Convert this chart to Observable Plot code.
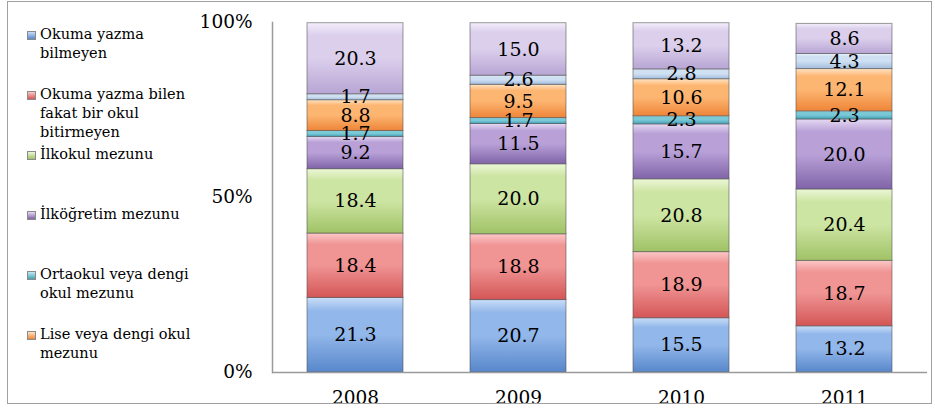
<!DOCTYPE html>
<html><head><meta charset="utf-8">
<script src="https://cdn.jsdelivr.net/npm/d3@7"></script>
<script src="https://cdn.jsdelivr.net/npm/@observablehq/plot@0.6"></script>
<style>
body{margin:0;background:#fff;}
#wrap{position:relative;width:935px;height:411px;overflow:hidden;font-family:"DejaVu Serif",serif;}
#chart{position:absolute;left:0;top:0;}
#frame{position:absolute;left:7px;top:1px;width:923px;height:401px;border:1.5px solid #a0a0a0;pointer-events:none;z-index:3;}
#cover{position:absolute;left:0;top:404px;width:935px;height:8px;background:#fff;z-index:2;}
.item{position:absolute;left:27px;font-size:14.5px;line-height:19px;color:#000;}
.sw{position:absolute;left:0;top:6px;width:7px;height:7px;border:1px solid #8a8a8a;}
.lbl{position:absolute;left:13px;top:0;width:158px;}
</style></head>
<body><div id="wrap"><div id="chart"></div><div id="legend"></div><div id="cover"></div><div id="frame"></div></div>
<script>
const years = ["2008", "2009", "2010", "2011"];
const seriesNames = [
  "Okuma yazma bilmeyen",
  "Okuma yazma bilen fakat bir okul bitirmeyen",
  "İlkokul mezunu",
  "İlköğretim mezunu",
  "Ortaokul veya dengi okul mezunu",
  "Lise veya dengi okul mezunu",
  "Yüksekokul veya fakülte mezunu",
  "Bilinmeyen"
];
const okumaYazmaBilmeyen = [21.3, 20.7, 15.5, 13.2];
const okumaYazmaBilen = [18.4, 18.8, 18.9, 18.7];
const ilkokul = [18.4, 20.0, 20.8, 20.4];
const ilkogretim = [9.2, 11.5, 15.7, 20.0];
const ortaokul = [1.7, 1.7, 2.3, 2.3];
const lise = [8.8, 9.5, 10.6, 12.1];
const yuksekokul = [1.7, 2.6, 2.8, 4.3];
const bilinmeyen = [20.3, 15.0, 13.2, 8.6];
const legendCount = 6;
const yTicks = [0, 50, 100];

const seriesValues = [okumaYazmaBilmeyen, okumaYazmaBilen, ilkokul, ilkogretim, ortaokul, lise, yuksekokul, bilinmeyen];
const gradients = [
  ["#c9def8", "#92b7ea", "#5787cb"],
  ["#fcc8c8", "#f09494", "#d45656"],
  ["#ecf7d8", "#cde5a3", "#a0c266"],
  ["#e6daf2", "#b9a1d8", "#8064a8"],
  ["#c4eaf1", "#7bc9d7", "#43a1b6"],
  ["#ffe4c4", "#fdb672", "#ee8538"],
  ["#f0f6fd", "#cfe0f3", "#a4bddd"],
  ["#f4eefb", "#dbcfec", "#b8a5d4"]
];

const data = [];
seriesNames.forEach((s, i) => years.forEach((y, j) => data.push({year: y, series: s, value: seriesValues[i][j]})));

const chart = Plot.plot({
  width: 935, height: 411,
  marginLeft: 272, marginRight: 8, marginTop: 22, marginBottom: 39,
  style: {fontFamily: "DejaVu Serif, serif", fontSize: "18.5px", background: "transparent", color: "#000"},
  x: {domain: years, paddingInner: 0.41, paddingOuter: 0.205, label: null, tickSize: 0, tickPadding: 18},
  y: {domain: [0, 100], ticks: yTicks, tickFormat: d => d + "%", label: null, tickSize: 0, tickPadding: 20},
  color: {domain: seriesNames, range: seriesNames.map((_, i) => `url(#grad${i})`)},
  marks: [
    Plot.barY(data, {x: "year", y: "value", fill: "series", stroke: "#4a4a4a", strokeOpacity: 0.55, strokeWidth: 1}),
    Plot.text(data, Plot.stackY({x: "year", y: "value", z: "series", text: d => d.value.toFixed(1), fontSize: 19, fill: "#000"})),
    Plot.ruleY([0], {stroke: "#9a9a9a", strokeWidth: 1.5}),
    Plot.frame({anchor: "left", stroke: "#9a9a9a", strokeWidth: 1.5})
  ]
});

const ns = "http://www.w3.org/2000/svg";
const defs = document.createElementNS(ns, "defs");
gradients.forEach((g, i) => {
  const lg = document.createElementNS(ns, "linearGradient");
  lg.setAttribute("id", "grad" + i);
  lg.setAttribute("x1", "0"); lg.setAttribute("y1", "0");
  lg.setAttribute("x2", "0"); lg.setAttribute("y2", "1");
  [[0, g[0]], [0.18, g[1]], [0.5, g[1]], [1, g[2]]].forEach(([o, c]) => {
    const st = document.createElementNS(ns, "stop");
    st.setAttribute("offset", o);
    st.setAttribute("stop-color", c);
    lg.appendChild(st);
  });
  defs.appendChild(lg);
});
chart.insertBefore(defs, chart.firstChild);
document.getElementById("chart").appendChild(chart);

const legend = document.getElementById("legend");
seriesNames.slice(0, legendCount).forEach((s, i) => {
  const it = document.createElement("div");
  it.className = "item";
  it.style.top = (25 + 60 * i) + "px";
  const sw = document.createElement("div");
  sw.className = "sw";
  sw.style.background = `linear-gradient(${gradients[i][0]}, ${gradients[i][2]})`;
  const lb = document.createElement("div");
  lb.className = "lbl";
  lb.textContent = s;
  it.appendChild(sw); it.appendChild(lb);
  legend.appendChild(it);
});
</script></body></html>
